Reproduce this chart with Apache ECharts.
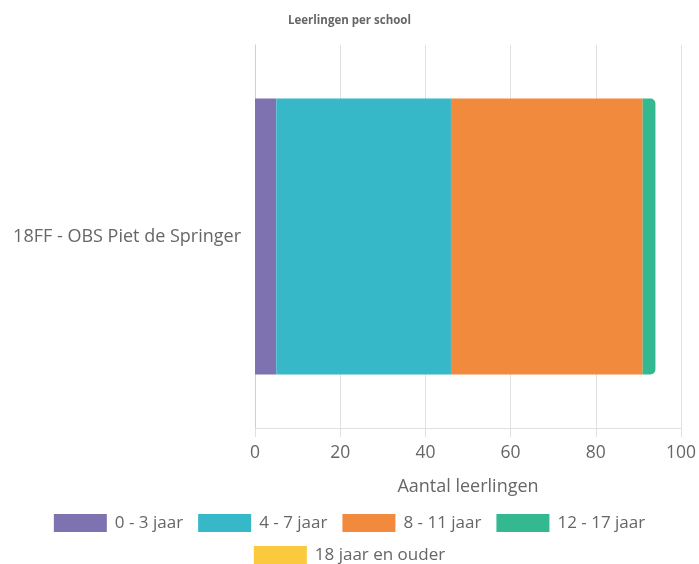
<!DOCTYPE html>
<html><head><meta charset="utf-8">
<script src="https://cdn.jsdelivr.net/npm/echarts@6/dist/echarts.min.js"></script>
<style>html,body{margin:0;padding:0;background:#fff}#c{width:699px;height:564px}</style>
</head><body><div id="c"></div>
<script>
const categories = ['18FF - OBS Piet de Springer'];
const seriesNames = ['0 - 3 jaar', '4 - 7 jaar', '8 - 11 jaar', '12 - 17 jaar', '18 jaar en ouder'];
const v0_3 = [5];
const v4_7 = [41];
const v8_11 = [45];
const v12_17 = [3];
const v18plus = [0];
const xTicks = [0, 20, 40, 60, 80, 100];
const colors = ['#7f72b0', '#37b8c8', '#f28a3e', '#33b890', '#fbc93d'];
const values = [v0_3, v4_7, v8_11, v12_17, v18plus];
const font = '"Open Sans", Lato, sans-serif';
const legendBase = {left: 'center', itemWidth: 53, itemHeight: 18, itemGap: 15, icon: 'rect',
  padding: 0,
  textStyle: {fontSize: 17, color: '#666', fontFamily: font, padding: [0, 0, 0, 3]}};
const chart = echarts.init(document.getElementById('c'), null, {renderer: 'canvas'});
chart.setOption({
  animation: false,
  textStyle: {fontFamily: font},
  title: {text: 'Leerlingen per school', left: 'center', top: 10,
    textStyle: {fontSize: 11.5, fontWeight: 'bold', color: '#666', fontFamily: font}},
  grid: {left: 255, right: 18, top: 45, bottom: 136, containLabel: false},
  legend: [
    Object.assign({}, legendBase, {top: 514, data: seriesNames.slice(0, 4)}),
    Object.assign({}, legendBase, {top: 546, data: seriesNames.slice(4)})
  ],
  xAxis: {type: 'value', min: 0, max: xTicks[xTicks.length - 1], interval: xTicks[1] - xTicks[0],
    name: 'Aantal leerlingen', nameLocation: 'middle', nameGap: 50,
    nameTextStyle: {fontSize: 18, color: '#666'},
    axisLine: {show: true, lineStyle: {color: '#e0e0e0', width: 1}},
    axisTick: {show: true, length: 9, lineStyle: {color: '#e0e0e0'}},
    axisLabel: {fontSize: 17.5, color: '#666', margin: 16},
    splitLine: {show: true, lineStyle: {color: '#e0e0e0'}}},
  yAxis: {type: 'category', data: categories,
    axisLine: {show: true, lineStyle: {color: '#d0d0d0'}},
    axisTick: {show: false},
    axisLabel: {fontSize: 18, color: '#666', margin: 14}},
  series: seriesNames.map((n, i) => ({
    name: n, type: 'bar', stack: 'total', data: values[i], barWidth: '72%',
    itemStyle: {color: colors[i], borderRadius: i === 3 ? [0, 5, 5, 0] : 0}
  }))
});
</script></body></html>
